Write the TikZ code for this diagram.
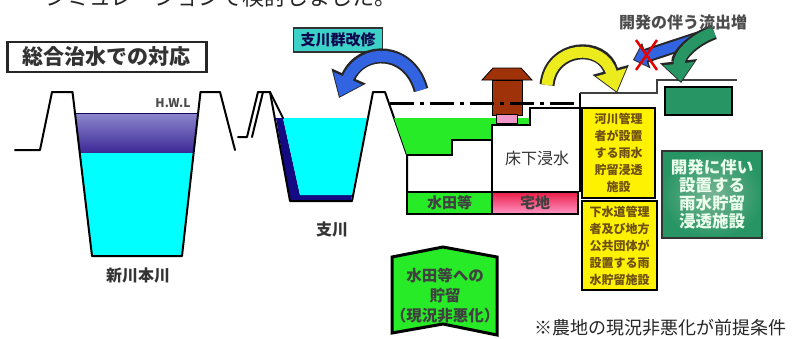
\documentclass[tikz,border=0pt]{standalone}
\usepackage{fontspec}
\setmainfont{Noto Sans CJK JP}
\usetikzlibrary{arrows.meta}

\definecolor{paddy}{RGB}{40,235,40}
\definecolor{aqua}{RGB}{0,255,255}
\definecolor{navydeep}{RGB}{20,10,130}
\definecolor{hwltop}{RGB}{140,135,205}
\definecolor{hwlbot}{RGB}{60,40,150}
\definecolor{tealbox}{RGB}{60,210,200}
\definecolor{arrowblue}{RGB}{50,100,225}
\definecolor{arrowyellow}{RGB}{235,235,30}
\definecolor{devgreen}{RGB}{40,150,100}
\definecolor{devlight}{RGB}{120,180,150}
\definecolor{roof}{RGB}{160,50,10}
\definecolor{floorpink}{RGB}{240,150,200}
\definecolor{olivetext}{RGB}{110,80,20}
\definecolor{resred}{RGB}{235,30,70}
\definecolor{respink}{RGB}{255,150,200}

\tikzset{
  bank/.style={line width=2pt, line join=round, line cap=round},
  ground/.style={line width=2pt, line join=miter},
  label/.style={inner sep=0pt, text=black!80},
  yellowbox/.style={draw=black, line width=1.5pt, fill=yellow, text=olivetext,
     align=center, font=\bfseries\fontsize{12}{17}\selectfont, inner sep=0pt},
  arrowback/.style={line width=15pt, draw=black!85},
  arrowfront/.style={line width=11pt},
}

\begin{document}
\begin{tikzpicture}[x=1pt, y=-1pt]
\useasboundingbox (0,0) rectangle (795,338);
\fill[white] (0,0) rectangle (795,338);

% heading line running off the top edge
\node[anchor=base west, inner sep=0pt, text=black!85,
      font=\fontsize{22}{22}\selectfont] (topline) at (45,5) {シミュレーションで検討しました。};

% title
\node[draw=black!85, line width=2.2pt, fill=white, minimum width=199pt, minimum height=30pt,
      inner sep=0pt, font=\bfseries\fontsize{21}{21}\selectfont, text=black!80] (title) at (107,57) {総合治水での対応};

% ---------- main river ----------
\shade[top color=hwltop, bottom color=hwlbot] (75,113) -- (198.2,113) -- (193.7,153) -- (79.3,153) -- cycle;
\fill[aqua] (79.3,153) -- (193.7,153) -- (182,256) -- (92,256) -- cycle;
\draw[line width=1pt, navydeep!70!black] (75,113) -- (198.2,113);
\draw[bank] (15,150) -- (40,150) -- (52,92) -- (72.5,92) -- (92,256) -- (182,256)
   -- (200.5,92) -- (220,92) -- (235,150);
\node[label, font=\bfseries\fontsize{12}{12}\selectfont, text=black!70] (hwl) at (173,103) {H.W.L};
\node[label, font=\bfseries\fontsize{16}{16}\selectfont] (mainriver) at (138,275) {新川本川};

% ---------- tributary ----------
\fill[navydeep] (276,118) -- (283,118) -- (300,195) -- (352,195) -- (351,201) -- (290,201) -- cycle;
\fill[aqua] (283,118) -- (367,118) -- (352,195) -- (300,195) -- cycle;
\draw[bank] (238,137) -- (247,137) -- (258,92) -- (270,92) -- (283,118);
\draw[bank] (252,137) -- (263,92);
\draw[bank] (270,92) -- (290,201) -- (352,201) -- (373,92) -- (385,92) -- (407,155) -- (407,192);
\node[label, font=\bfseries\fontsize{16}{16}\selectfont] (tributary) at (332,229) {支川};

% ---------- paddy and houses ----------
\fill[paddy] (394,118) -- (530,118) -- (530,125) -- (492,125) -- (492,140) -- (452,140)
   -- (452,155) -- (407,155) -- cycle;
\draw[ground] (407,155) -- (452,155) -- (452,140) -- (492,140) -- (492,125) -- (530,125)
   -- (530,108) -- (580,108) -- (580,93);
\draw[line width=1.5pt, black!75] (580,93) -- (657,93) -- (657,80) -- (737,80);
\draw[ground] (492,140) -- (492,192);
\draw[ground] (580,108) -- (580,192);

% house
\fill[roof, draw=black, line width=.8pt] (482,80) -- (493,68) -- (521,68) -- (532,80) -- cycle;
\fill[roof, draw=black, line width=.8pt] (492,80) rectangle (522,115);
\fill[floorpink, draw=black, line width=.8pt] (496,114) rectangle (517,123);

% design water level
\draw[line width=3pt, dash pattern=on 24pt off 6pt on 4pt off 6pt] (390,103) -- (578,103);

\node[label, font=\fontsize{16}{16}\selectfont] (flood) at (537,158) {床下浸水};

\node[draw=black, line width=2pt, fill=paddy, minimum width=85pt, minimum height=22pt,
      inner sep=0pt, font=\bfseries\fontsize{15}{15}\selectfont, text=black!75] (paddybox) at (449.5,203) {水田等};
\node[draw=black, line width=2pt, top color=resred, bottom color=respink, minimum width=86pt,
      minimum height=22pt, inner sep=0pt, font=\bfseries\fontsize{15}{15}\selectfont, text=black!75] (housebox) at (535,203) {宅地};

% ---------- facilities ----------
\node[yellowbox, minimum width=73pt, minimum height=90pt] (riverfac) at (618.5,153)
  {河川管理\\者が設置\\する雨水\\貯留浸透\\施設};
\node[yellowbox, minimum width=75pt, minimum height=89pt] (sewerfac) at (619.5,245.5)
  {下水道管理\\者及び地方\\公共団体が\\設置する雨\\水貯留施設};

\node[draw=black!80, line width=1.5pt, shading=radial, inner color=devlight, outer color=devgreen,
      minimum width=100pt, minimum height=87pt, inner sep=0pt, align=center,
      text=white!92!green, font=\bfseries\fontsize{16.5}{18}\selectfont] (devfac) at (712,194.5)
  {開発に伴い\\設置する\\雨水貯留\\浸透施設};

\node[draw=black, line width=1.5pt, fill=devgreen, minimum width=67pt, minimum height=28pt,
      inner sep=0pt] (devland) at (698.5,101) {};

% ---------- paddy storage ----------
\fill[paddy, draw=black, line width=3pt, line join=miter] (392,257) -- (443,247) -- (497,257)
   -- (497,335) -- (443,324) -- (392,333) -- cycle;
\node[label, align=center, font=\bfseries\fontsize{15.5}{20}\selectfont, text=black!75] (storage) at (445,296)
  {水田等への\\貯留\\（現況非悪化）};

% ---------- arrows ----------
\node[draw=black!80, line width=1.2pt, fill=tealbox, minimum width=89pt, minimum height=24pt,
      inner sep=0pt, font=\bfseries\fontsize{15}{15}\selectfont, text=navydeep!60!black] (tribwork) at (338,40) {支川群改修};

\coordinate (blueS) at (421,90);
\coordinate (blueE) at (339,98);
\draw[arrowback, -{Triangle[length=24pt,width=36pt]}] (blueS) .. controls (410,48) and (362,46) .. (blueE);
\draw[arrowfront, arrowblue, shorten >=1.5pt, -{Triangle[length=20pt,width=30pt]}] (blueS) .. controls (410,48) and (362,46) .. (blueE);

\coordinate (yelS) at (547,85);
\coordinate (yelE) at (617,93);
\draw[arrowback, -{Triangle[length=24pt,width=36pt]}] (yelS) .. controls (551,45) and (603,42) .. (yelE);
\draw[arrowfront, arrowyellow, shorten >=1.5pt, -{Triangle[length=20pt,width=30pt]}] (yelS) .. controls (551,45) and (603,42) .. (yelE);

\coordinate (runS) at (706,36);
\coordinate (runE) at (633,60);
\draw[arrowback, line width=14pt, -{Triangle[length=14pt,width=26pt]}] (runS) -- (runE);
\draw[arrowfront, line width=10pt, arrowblue, shorten >=1.5pt, -{Triangle[length=11pt,width=21pt]}] (runS) -- (runE);
\draw[red!90!black, line width=2.5pt] (636,40) -- (657,70) (657,40) -- (636,70);

\coordinate (grnS) at (714,32);
\coordinate (grnE) at (681,83);
\draw[arrowback, -{Triangle[length=22pt,width=36pt]}] (grnS) .. controls (692,40) and (678,56) .. (grnE);
\draw[arrowfront, devgreen, shorten >=1.5pt, -{Triangle[length=18pt,width=30pt]}] (grnS) .. controls (692,40) and (678,56) .. (grnE);

\node[label, font=\bfseries\fontsize{16}{16}\selectfont, text=black!70] (runoff) at (683,22) {開発の伴う流出増};

% footnote
\node[label, font=\fontsize{18}{18}\selectfont, text=black!85] (note) at (660,328) {※農地の現況非悪化が前提条件};
\end{tikzpicture}
\end{document}
